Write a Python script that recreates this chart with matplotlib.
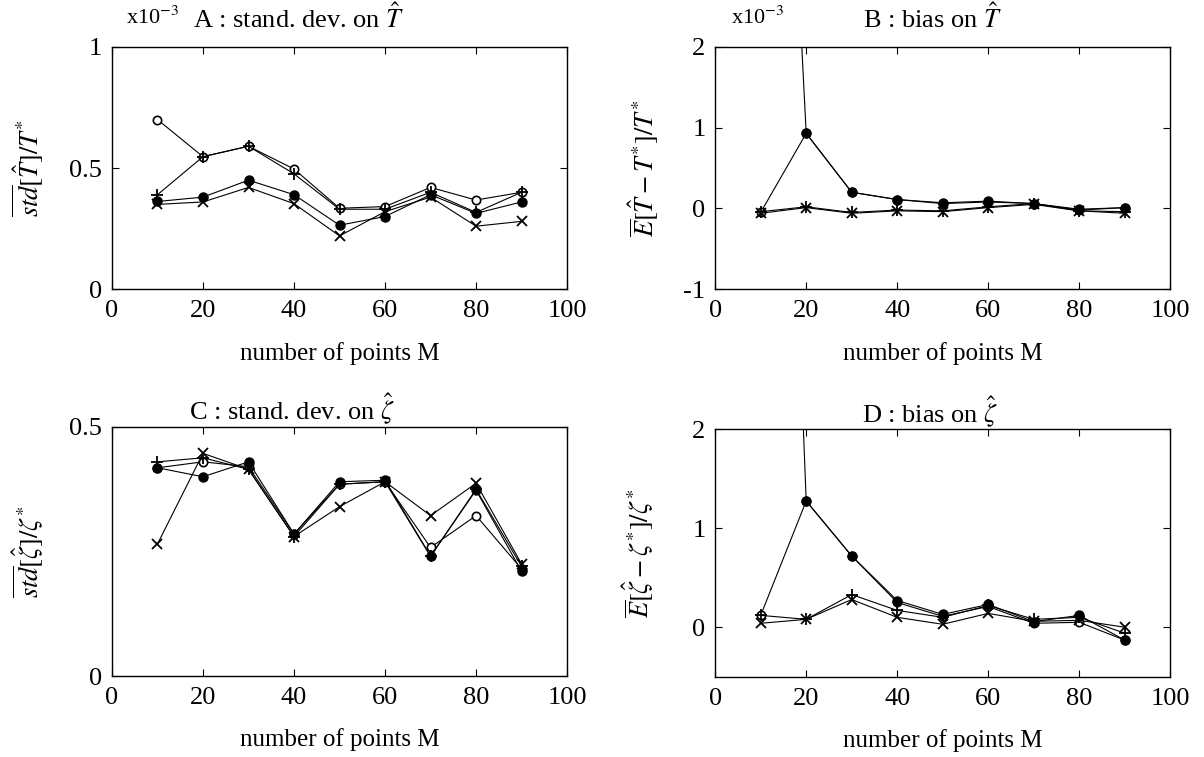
import numpy as np
import matplotlib
matplotlib.use("Agg")
from matplotlib import pyplot as plt

plt.rcParams['font.family'] = ['Liberation Serif', 'DejaVu Serif']
plt.rcParams['mathtext.fontset'] = 'stix'

M = [10, 20, 30, 40, 50, 60, 70, 80, 90]
XTICKS = [0, 20, 40, 60, 80, 100]

# A : stand. dev. on T (x1e-3)
a_circ = [0.70, 0.547, 0.59, 0.496, 0.334, 0.341, 0.42, 0.368, 0.40]
a_plus = [0.39, 0.547, 0.59, 0.476, 0.33, 0.33, 0.40, 0.317, 0.40]
a_dot = [0.362, 0.38, 0.45, 0.39, 0.264, 0.30, 0.39, 0.313, 0.36]
a_x = [0.35, 0.36, 0.42, 0.353, 0.22, 0.32, 0.38, 0.26, 0.28]

# B : bias on T (x1e-3)
b_dot = [12.0, 0.93, 0.20, 0.11, 0.07, 0.09, 0.06, -0.01, 0.01]
b_circ = [-0.05, 0.93, 0.20, 0.11, 0.06, 0.08, 0.06, -0.02, 0.01]
b_plus = [-0.04, 0.02, -0.05, -0.02, -0.03, 0.02, 0.06, -0.03, -0.04]
b_x = [-0.06, 0.01, -0.06, -0.03, -0.04, 0.01, 0.05, -0.03, -0.06]

# C : stand. dev. on zeta
c_circ = [0.418, 0.43, 0.42, 0.285, 0.385, 0.39, 0.258, 0.322, 0.215]
c_plus = [0.43, 0.438, 0.415, 0.28, 0.385, 0.39, 0.24, 0.375, 0.22]
c_dot = [0.418, 0.40, 0.43, 0.285, 0.39, 0.393, 0.241, 0.373, 0.21]
c_x = [0.265, 0.447, 0.415, 0.28, 0.34, 0.39, 0.322, 0.387, 0.225]

# D : bias on zeta
d_dot = [13.0, 1.275, 0.72, 0.27, 0.13, 0.23, 0.056, 0.12, -0.13]
d_circ = [0.12, 1.275, 0.72, 0.25, 0.11, 0.21, 0.04, 0.05, -0.13]
d_plus = [0.12, 0.08, 0.33, 0.17, 0.10, 0.22, 0.08, 0.10, -0.06]
d_x = [0.04, 0.08, 0.28, 0.10, 0.03, 0.14, 0.06, 0.07, 0.0]


def draw(ax, circ, plus, dot, xs):
    kw = dict(color='black', lw=0.8)
    ax.plot(M, circ, marker='o', ms=6, mfc='white', mec='black', mew=1.2, **kw)
    ax.plot(M, plus, marker='+', ms=9, mew=1.3, **kw)
    ax.plot(M, dot, marker='o', ms=6.5, mfc='black', mec='black', **kw)
    ax.plot(M, xs, marker='x', ms=7, mew=1.3, **kw)


def style(ax, ylim, yticks, yticklabels, title, tx, ty, ylabel, ylx, xly):
    ax.set_xlim(0, 100)
    ax.set_ylim(*ylim)
    ax.set_xticks(XTICKS)
    ax.set_yticks(yticks)
    ax.set_yticklabels(yticklabels)
    ax.tick_params(direction='in', length=5, width=0.8, top=True, right=True,
                   labelsize=19)
    ax.tick_params(axis='x', pad=8)
    ax.tick_params(axis='y', pad=7)
    for s in ax.spines.values():
        s.set_linewidth(1.0)
    ax.text(tx, ty, title, transform=ax.transAxes, ha='center', va='center',
            fontsize=19)
    ax.set_ylabel(ylabel, fontsize=19)
    ax.yaxis.set_label_coords(ylx, 0.5)
    ax.set_xlabel('number of points M', fontsize=18)
    ax.xaxis.set_label_coords(0.5, xly)


fig = plt.figure(figsize=(12.04, 7.57), dpi=100)
axA = fig.add_axes([0.093, 0.618, 0.378, 0.320])
axB = fig.add_axes([0.594, 0.618, 0.378, 0.320])
axC = fig.add_axes([0.093, 0.107, 0.378, 0.329])
axD = fig.add_axes([0.594, 0.106, 0.378, 0.327])

draw(axA, a_circ, a_plus, a_dot, a_x)
style(axA, (0, 1), [0, 0.5, 1], ['0', '0.5', '1'],
      r'A : stand. dev. on $\hat{T}$', 0.41, 1.12,
      r'$\overline{std}[\hat{T}]/T^{*}$', -0.145, -0.22)
axA.text(0.03, 1.12, r'x10$^{-3}$', transform=axA.transAxes, ha='left',
         va='center', fontsize=16)

draw(axB, b_circ, b_plus, b_dot, b_x)
style(axB, (-1, 2), [-1, 0, 1, 2], ['-1', '0', '1', '2'],
      r'B : bias on $\hat{T}$', 0.477, 1.12,
      r'$\overline{E}[\hat{T} - T^{*}]/T^{*}$', -0.12, -0.22)
axB.text(0.035, 1.12, r'x10$^{-3}$', transform=axB.transAxes, ha='left',
         va='center', fontsize=16)

draw(axC, c_circ, c_plus, c_dot, c_x)
style(axC, (0, 0.5), [0, 0.5], ['0', '0.5'],
      r'C : stand. dev. on $\hat{\zeta}$', 0.395, 1.07,
      r'$\overline{std}[\hat{\zeta}]/\zeta^{*}$', -0.145, -0.21)

draw(axD, d_circ, d_plus, d_dot, d_x)
style(axD, (-0.5, 2), [0, 1, 2], ['0', '1', '2'],
      r'D : bias on $\hat{\zeta}$', 0.473, 1.07,
      r'$\overline{E}[\hat{\zeta} - \zeta^{*}]/\zeta^{*}$', -0.13, -0.21)

fig.savefig('out.png', dpi=100)
